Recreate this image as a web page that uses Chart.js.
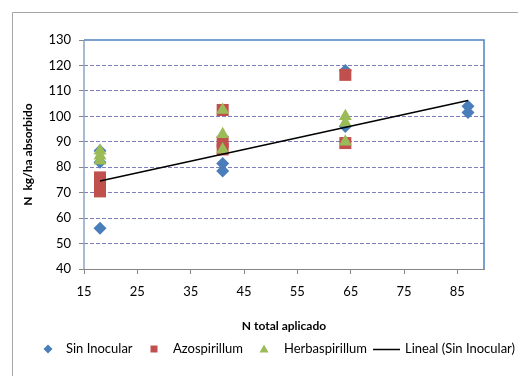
<!DOCTYPE html>
<html>
<head>
<meta charset="utf-8">
<script src="https://cdn.jsdelivr.net/npm/chart.js@4.4.1/dist/chart.umd.min.js"></script>
<style>
  html, body { margin: 0; padding: 0; background: #fff; }
</style>
</head>
<body>
<canvas id="nChart" width="518" height="376"></canvas>
<script>
// tick labels
const xTicks = [15, 25, 35, 45, 55, 65, 75, 85];
const yTicks = [40, 50, 60, 70, 80, 90, 100, 110, 120, 130];

// series values
const sinInocularX = [18, 18, 18, 41, 41, 64, 64, 87, 87];
const sinInocularY = [86.5, 82, 56, 81.5, 78.5, 118, 96, 104, 101.5];

const azospirillumX = [18, 18, 18, 41, 41, 41, 64, 64];
const azospirillumY = [76, 73, 70.5, 102.5, 90, 87, 116.3, 89.5];

const herbaspirillumX = [18, 18, 18, 41, 41, 41, 64, 64, 64];
const herbaspirillumY = [86.5, 84.5, 82.5, 102.5, 93, 87, 100, 97.5, 90];

// linear trend (Sin Inocular), end points
const trendX = [18, 87];
const trendY = [74.6, 106.2];

const toPoints = (xs, ys) => xs.map((x, i) => ({ x: x, y: ys[i] }));

const FONT = 'Lato, "Open Sans", sans-serif';

// white background, outer chart border and plot frame
const chartFrame = {
    id: 'chartFrame',
    beforeDraw(chart) {
        const ctx = chart.ctx;
        ctx.save();
        ctx.fillStyle = '#fff';
        ctx.fillRect(0, 0, chart.width, chart.height);
        ctx.strokeStyle = '#a6a6a6';
        ctx.lineWidth = 1;
        ctx.beginPath();
        ctx.moveTo(12.5, chart.height);
        ctx.lineTo(12.5, 12.5);
        ctx.lineTo(chart.width, 12.5);
        ctx.stroke();
        ctx.restore();
    },
    afterDatasetsDraw(chart) {
        const { ctx, chartArea } = chart;
        ctx.save();
        // left axis line
        ctx.strokeStyle = '#8ea3c2';
        ctx.lineWidth = 1.5;
        ctx.beginPath();
        ctx.moveTo(chartArea.left, chartArea.top);
        ctx.lineTo(chartArea.left, chartArea.bottom);
        ctx.stroke();
        // top and right border
        ctx.strokeStyle = '#4f81bd';
        ctx.beginPath();
        ctx.moveTo(chartArea.left, chartArea.top);
        ctx.lineTo(chartArea.right, chartArea.top);
        ctx.lineTo(chartArea.right, chartArea.bottom);
        ctx.stroke();
        ctx.restore();
    }
};

// legend drawn along the bottom, like the Excel one
const bottomLegend = {
    id: 'bottomLegend',
    afterDraw(chart) {
        const ctx = chart.ctx;
        const y = 349;
        const slots = [
            { markerX: 48, textX: 66 },
            { markerX: 154, textX: 173 },
            { markerX: 264, textX: 284 },
            { markerX: 373, textX: 405 }
        ];
        ctx.save();
        ctx.font = '13px ' + FONT;
        ctx.textBaseline = 'middle';
        chart.data.datasets.forEach((ds, i) => {
            const s = slots[i];
            ctx.fillStyle = ds.backgroundColor;
            ctx.strokeStyle = ds.borderColor;
            ctx.beginPath();
            if (ds.pointStyle === 'rectRot') {
                ctx.moveTo(s.markerX, y - 4.5);
                ctx.lineTo(s.markerX + 4.5, y);
                ctx.lineTo(s.markerX, y + 4.5);
                ctx.lineTo(s.markerX - 4.5, y);
                ctx.closePath();
                ctx.fill();
            } else if (ds.pointStyle === 'rect') {
                ctx.rect(s.markerX - 3.5, y - 3.5, 7, 7);
                ctx.fill();
            } else if (ds.pointStyle === 'triangle') {
                ctx.moveTo(s.markerX, y - 4.5);
                ctx.lineTo(s.markerX + 4.5, y + 3.5);
                ctx.lineTo(s.markerX - 4.5, y + 3.5);
                ctx.closePath();
                ctx.fill();
            } else {
                ctx.lineWidth = 1.5;
                ctx.moveTo(s.markerX, y + 0.5);
                ctx.lineTo(s.markerX + 27, y + 0.5);
                ctx.stroke();
            }
            ctx.fillStyle = '#000';
            ctx.fillText(ds.label, s.textX, y);
        });
        ctx.restore();
    }
};

const ctx = document.getElementById('nChart').getContext('2d');
new Chart(ctx, {
    type: 'scatter',
    data: {
        datasets: [
            {
                label: 'Sin Inocular',
                data: toPoints(sinInocularX, sinInocularY),
                pointStyle: 'rectRot',
                pointRadius: 6.5,
                backgroundColor: '#4a7ebb',
                borderColor: '#4a7ebb',
                borderWidth: 0,
                order: 3
            },
            {
                label: 'Azospirillum',
                data: toPoints(azospirillumX, azospirillumY),
                pointStyle: 'rect',
                pointRadius: 8.5,
                backgroundColor: '#c0504d',
                borderColor: '#c0504d',
                borderWidth: 0,
                order: 2
            },
            {
                label: 'Herbaspirillum',
                data: toPoints(herbaspirillumX, herbaspirillumY),
                pointStyle: 'triangle',
                pointRadius: 7.5,
                backgroundColor: '#9bbb59',
                borderColor: '#9bbb59',
                borderWidth: 0,
                order: 1
            },
            {
                type: 'line',
                label: 'Lineal (Sin Inocular)',
                data: toPoints(trendX, trendY),
                pointStyle: 'line',
                pointRadius: 0,
                showLine: true,
                backgroundColor: '#000',
                borderColor: '#000',
                borderWidth: 1.5,
                order: 0
            }
        ]
    },
    options: {
        responsive: false,
        animation: false,
        layout: { padding: { left: 0, right: 34, top: 40, bottom: 39 } },
        plugins: {
            legend: { display: false },
            tooltip: { enabled: false }
        },
        scales: {
            x: {
                type: 'linear',
                min: 15,
                max: 90,
                afterBuildTicks: (scale) => { scale.ticks = xTicks.map(v => ({ value: v })); },
                afterFit: (scale) => { scale.height = 68; },
                grid: { drawOnChartArea: false, drawTicks: true, tickLength: 5, tickColor: '#868686' },
                border: { color: '#868686', width: 1 },
                ticks: { font: { family: FONT, size: 13 }, color: '#000', padding: 10, maxRotation: 0 },
                title: {
                    display: true,
                    text: 'N total aplicado',
                    font: { family: FONT, size: 12, weight: 'bold' },
                    color: '#000',
                    padding: { top: 0, bottom: 4 }
                }
            },
            y: {
                type: 'linear',
                min: 40,
                max: 130,
                afterBuildTicks: (scale) => { scale.ticks = yTicks.map(v => ({ value: v })); },
                afterFit: (scale) => { scale.width = 84; },
                grid: {
                    color: (c) => (c.tick && (c.tick.value === 40 || c.tick.value === 130)) ? 'rgba(0,0,0,0)' : '#7f7fbf',
                    tickColor: '#868686',
                    tickLength: 5,
                    lineWidth: 1
                },
                border: { display: false, dash: [4, 2] },
                ticks: { font: { family: FONT, size: 13 }, color: '#000', padding: 8 },
                title: {
                    display: true,
                    text: 'N  kg/ha absorbido',
                    font: { family: FONT, size: 12, weight: 'bold' },
                    color: '#000',
                    padding: { top: 21, bottom: 0 }
                }
            }
        }
    },
    plugins: [chartFrame, bottomLegend]
});
</script>
</body>
</html>
